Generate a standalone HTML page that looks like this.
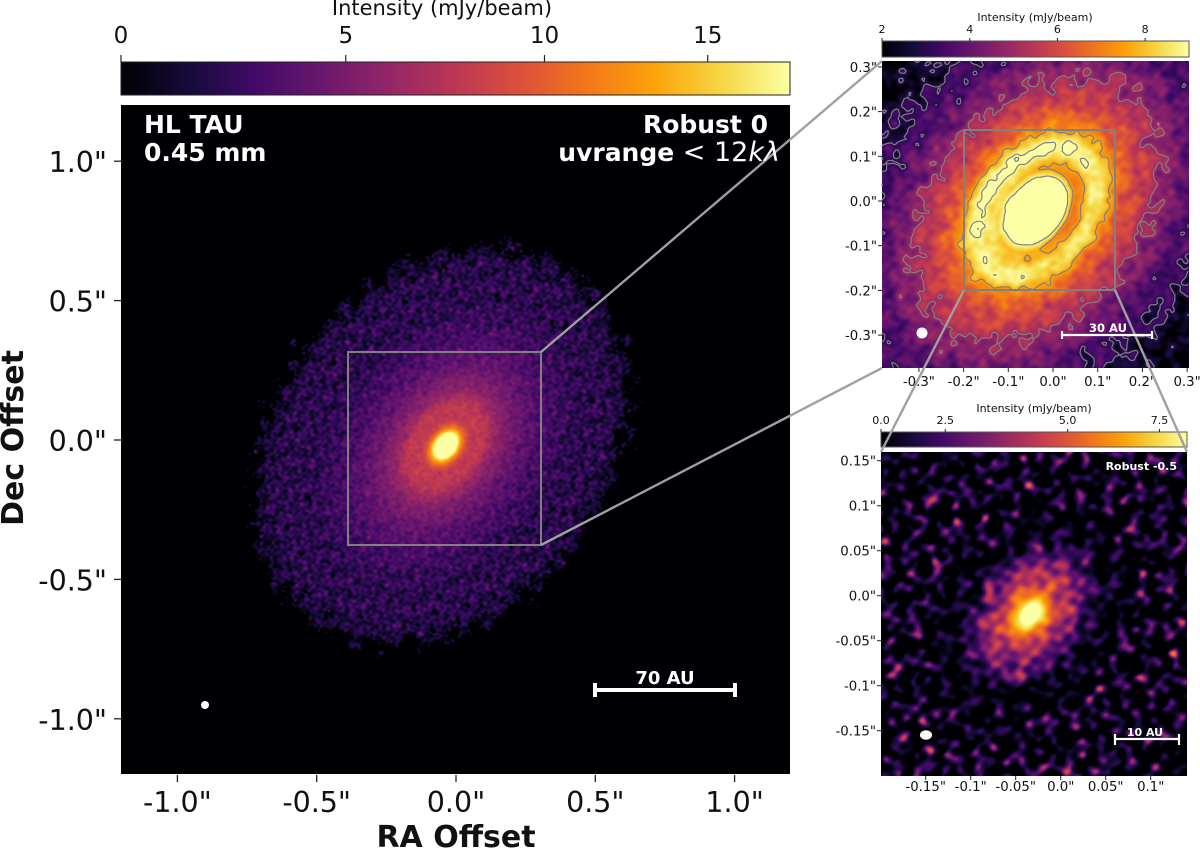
<!DOCTYPE html>
<html lang="en">
<head>
<meta charset="utf-8">
<title>HL Tau 0.45 mm intensity maps</title>
<style>
html,body{margin:0;padding:0;background:#fff;width:1200px;height:848px;overflow:hidden}
#figure{position:relative;width:1200px;height:848px;font-family:"DejaVu Sans","Liberation Sans",sans-serif}
canvas{position:absolute;display:block}
svg{position:absolute;left:0;top:0}
text{font-family:"DejaVu Sans","Liberation Sans",sans-serif}
</style>
</head>
<body>
<div id="figure">
<canvas id="mainImage" width="669" height="669" style="left:121px;top:105px"></canvas>
<canvas id="zoomImage" width="307" height="307" style="left:882px;top:61px"></canvas>
<canvas id="robustImage" width="306" height="324" style="left:881px;top:452px"></canvas>
<svg id="overlay" width="1200" height="848" viewBox="0 0 1200 848">
<defs>
<linearGradient id="infernoGradient" x1="0" x2="1" y1="0" y2="0"></linearGradient>
</defs>
<rect x="121" y="62" width="669" height="33" fill="url(#infernoGradient)" stroke="#222" stroke-width="1"/>
<rect x="882" y="41" width="307" height="16" fill="url(#infernoGradient)" stroke="#555" stroke-width="1"/>
<rect x="881" y="432" width="306" height="15" fill="url(#infernoGradient)" stroke="#555" stroke-width="1"/>
<g id="contours"></g>
<g id="ticks"></g>

<rect x="348" y="352" width="193" height="193" fill="none" stroke="#808080" stroke-width="2"/>
<rect x="964" y="130" width="151" height="160" fill="none" stroke="#808080" stroke-width="2"/>
<g stroke="#a0a0a0" stroke-width="2.4" fill="none">
<line x1="541" y1="352" x2="882" y2="61"/>
<line x1="541" y1="545" x2="882" y2="368"/>
<line x1="964" y1="290" x2="881" y2="452"/>
<line x1="1115" y1="290" x2="1187" y2="452"/>
</g>

<text x="442" y="15" font-size="21" text-anchor="middle" fill="#111">Intensity (mJy/beam)</text>
<text x="1035" y="21" font-size="11" text-anchor="middle" fill="#111">Intensity (mJy/beam)</text>
<text x="1034" y="412" font-size="11" text-anchor="middle" fill="#111">Intensity (mJy/beam)</text>

<text x="456" y="847" font-size="30" font-weight="700" text-anchor="middle" fill="#111">RA Offset</text>
<text transform="translate(23,438) rotate(-90)" font-size="30" font-weight="700" text-anchor="middle" fill="#111">Dec Offset</text>

<text x="144" y="133" font-size="25" font-weight="700" fill="#fff">HL TAU</text>
<text x="144" y="161" font-size="25" font-weight="700" fill="#fff">0.45 mm</text>
<text x="768" y="133" font-size="25" font-weight="700" text-anchor="end" fill="#fff">Robust 0</text>
<text x="780" y="161" font-size="25" text-anchor="end" fill="#fff"><tspan font-weight="700">uvrange</tspan><tspan font-size="27"> &lt; 12</tspan><tspan font-size="27" font-style="italic">kλ</tspan></text>

<g stroke="#fff" stroke-width="4">
<line x1="595" y1="690" x2="735" y2="690"/><line x1="595" y1="683" x2="595" y2="697"/><line x1="735" y1="683" x2="735" y2="697"/>
</g>
<text x="665" y="684" font-size="18" font-weight="700" text-anchor="middle" fill="#fff">70 AU</text>
<circle cx="205" cy="705" r="4" fill="#fff"/>

<g stroke="#fff" stroke-width="2.2">
<line x1="1062" y1="335" x2="1152" y2="335"/><line x1="1062" y1="331" x2="1062" y2="339"/><line x1="1152" y1="331" x2="1152" y2="339"/>
</g>
<text x="1108" y="332" font-size="11.5" font-weight="700" text-anchor="middle" fill="#fff">30 AU</text>
<circle cx="922" cy="333" r="5.5" fill="#fff"/>

<text x="1177" y="470" font-size="11" font-weight="700" text-anchor="end" fill="#fff">Robust -0.5</text>
<g stroke="#fff" stroke-width="2.2">
<line x1="1115" y1="739" x2="1179" y2="739"/><line x1="1115" y1="734" x2="1115" y2="745"/><line x1="1179" y1="734" x2="1179" y2="745"/>
</g>
<text x="1145" y="736" font-size="11" font-weight="700" text-anchor="middle" fill="#fff">10 AU</text>
<ellipse cx="926" cy="735" rx="6" ry="4.8" fill="#fff"/>
</svg>
</div>

<script>
// ---- colormap ----
const infernoStops = ["#000004","#160b39","#420a68","#6a176e","#932667","#bc3754","#dd513a","#f37819","#fca50a","#f6d746","#fcffa4"];

// ---- colour normalisation (intensity -> position along colorbar) ----
const mainNormValues = [0, 5, 10, 15, 17];
const mainNormFractions = [0, 0.336, 0.633, 0.877, 1];
const zoomNormValues = [2, 9];
const zoomNormFractions = [0, 1];
const robustNormValues = [0, 2.5, 5, 7.5, 8.4];
const robustNormFractions = [0, 0.21, 0.61, 0.91, 1];

// ---- tick labels ----
const mainTicks = [-1, -0.5, 0, 0.5, 1];
const mainTickLabels = ['-1.0"', '-0.5"', '0.0"', '0.5"', '1.0"'];
const zoomTicks = [-0.3, -0.2, -0.1, 0, 0.1, 0.2, 0.3];
const zoomTickLabels = ['-0.3"', '-0.2"', '-0.1"', '0.0"', '0.1"', '0.2"', '0.3"'];
const robustXTicks = [-0.15, -0.1, -0.05, 0, 0.05, 0.1];
const robustXTickLabels = ['-0.15"', '-0.1"', '-0.05"', '0.0"', '0.05"', '0.1"'];
const robustYTicks = [-0.15, -0.1, -0.05, 0, 0.05, 0.1, 0.15];
const robustYTickLabels = ['-0.15"', '-0.1"', '-0.05"', '0.0"', '0.05"', '0.1"', '0.15"'];
const mainCbarTicks = [0, 5, 10, 15];
const zoomCbarTicks = [2, 4, 6, 8];
const robustCbarTicks = [0, 2.5, 5, 7.5];
const robustCbarLabels = ['0.0', '2.5', '5.0', '7.5'];

// ---- radial intensity profiles (elliptical radius in arcsec, mJy/beam) ----
const mainRadius = [0, 0.05, 0.07, 0.085, 0.105, 0.13, 0.17, 0.2, 0.25, 0.3, 0.36, 0.42, 0.5, 0.58, 0.68, 0.75, 0.85];
const mainIntensity = [32, 17, 12, 9.5, 8, 8, 7.8, 6.6, 5.4, 4.6, 3.9, 3.3, 2.7, 2.15, 2.15, 2.05, 1.85];
const mainScatter = [0.05, 0.1, 0.15, 0.2, 0.25, 0.28, 0.3, 0.3, 0.33, 0.36, 0.4, 0.5, 0.62, 0.72, 0.78, 0.82, 0.85];

const zoomRadius = [0, 0.05, 0.085, 0.105, 0.125, 0.15, 0.175, 0.2, 0.23, 0.27, 0.31, 0.36, 0.42, 0.5, 0.58, 0.68];
const zoomIntensity = [32, 17, 9, 7.6, 7.9, 8.9, 8.7, 7.6, 6.5, 5.9, 5.3, 4.6, 3.7, 3.1, 2.4, 2.1];
const zoomScatter = [0.03, 0.03, 0.05, 0.08, 0.12, 0.14, 0.16, 0.18, 0.2, 0.22, 0.22, 0.24, 0.26, 0.28, 0.3, 0.32];

const robustRadius = [0, 0.01, 0.016, 0.024, 0.032, 0.05, 0.068, 0.082, 0.095, 0.11, 0.16, 0.25, 0.32, 0.45];
const robustIntensity = [11, 9, 7.6, 6, 5, 3.9, 3.1, 1.7, 0.5, 0, 0.3, 0.3, -0.1, -0.6];
const robustScatter = [0, 0, 0.2, 0.35, 0.45, 0.5, 0.7, 0.9, 1, 1, 1.6, 1.6, 1.5, 1.3];

const contourLevels = [3, 5, 7.6, 9];

// ---- disc geometry ----
const discCentre = [-0.037, -0.021];
const discAngleDeg = 52;
const discAxisRatio = 0.7;
const robustCentre = [-0.034, -0.02];
const edgeCentre = [-0.053, -0.018];
const edgeAngleDeg = 52;
const edgeAxisRatio = 0.77;
const edgeSemiMajor = 0.772;

// ---- beam-sized texture: fixed plane waves [direction deg, wavelength factor, phase] ----
const textureWaves = [[12,1.0,0.4],[37,0.86,2.1],[58,1.12,4.3],[83,0.95,1.2],[104,1.05,5.6],[127,0.9,3.3],[149,1.18,0.9],[171,0.98,2.7],[24,1.32,5.1],[71,0.74,3.9],[116,1.48,1.7],[139,0.68,4.9],[3,1.66,2.3],[160,1.82,0.2]];

const waveCos = textureWaves.map(w => Math.cos(w[0] * Math.PI / 180));
const waveSin = textureWaves.map(w => Math.sin(w[0] * Math.PI / 180));
const waveNorm = Math.sqrt(2 / textureWaves.length);

function texture(x, y, wl) {
  let s = 0;
  for (let i = 0; i < textureWaves.length; i++) {
    const k = 6.28318 / (wl * textureWaves[i][1]);
    s += Math.sin(k * (x * waveCos[i] + y * waveSin[i]) + textureWaves[i][2]);
  }
  return s * waveNorm;
}
function interp(xs, ys, x) {
  if (x <= xs[0]) return ys[0];
  const n = xs.length - 1;
  if (x >= xs[n]) return ys[n];
  let i = 1;
  while (xs[i] < x) i++;
  const t = (x - xs[i - 1]) / (xs[i] - xs[i - 1]);
  return ys[i - 1] + t * (ys[i] - ys[i - 1]);
}
function hexRgb(h) {
  return [parseInt(h.slice(1, 3), 16), parseInt(h.slice(3, 5), 16), parseInt(h.slice(5, 7), 16)];
}
const infernoRgb = infernoStops.map(hexRgb);
function colorAt(t) {
  t = Math.max(0, Math.min(1, t)) * (infernoRgb.length - 1);
  const i = Math.min(Math.floor(t), infernoRgb.length - 2);
  const f = t - i, a = infernoRgb[i], b = infernoRgb[i + 1];
  return [a[0] + f * (b[0] - a[0]), a[1] + f * (b[1] - a[1]), a[2] + f * (b[2] - a[2])];
}
const cosA = Math.cos(discAngleDeg * Math.PI / 180);
const sinA = Math.sin(discAngleDeg * Math.PI / 180);
const cosE = Math.cos(edgeAngleDeg * Math.PI / 180);
const sinE = Math.sin(edgeAngleDeg * Math.PI / 180);
function ellipticalRadius(dx, dy) {
  const u = dx * cosA + dy * sinA;
  const v = (-dx * sinA + dy * cosA) / discAxisRatio;
  return Math.sqrt(u * u + v * v);
}
function edgeRadius(x, y) {
  const dx = x - edgeCentre[0], dy = y - edgeCentre[1];
  const u = dx * cosE + dy * sinE;
  const v = (-dx * sinE + dy * cosE) / edgeAxisRatio;
  return Math.sqrt(u * u + v * v) / edgeSemiMajor;
}
function mainField(x, y) {
  const ro = edgeRadius(x, y) + 0.028 * texture(x + 1.3, y - 0.7, 0.08) + 0.02 * texture(x, y, 0.022);
  if (ro > 1) return 0;
  const r = ellipticalRadius(x - discCentre[0], y - discCentre[1]);
  const n = 0.8 * texture(x, y, 0.024) + 0.6 * texture(y + 0.4, x - 0.9, 0.05);
  const fade = ro > 0.9 ? 1 - 4 * (ro - 0.9) : 1;
  return Math.max(0, fade * (interp(mainRadius, mainIntensity, r) + interp(mainRadius, mainScatter, r) * n));
}
function zoomField(x, y) {
  const dx = x - discCentre[0], dy = y - discCentre[1];
  const r = ellipticalRadius(dx, dy);
  let v = interp(zoomRadius, zoomIntensity, r);
  const phi = Math.atan2(dy, dx);
  const ring = Math.exp(-Math.pow((r - 0.15) / 0.03, 2));
  const gap = Math.exp(-Math.pow((r - 0.108) / 0.022, 2));
  v += 0.5 * Math.cos(phi - 2.36) * ring - 0.7 * Math.cos(phi) * gap;
  const n = 0.7 * texture(x, y, 0.026) + 1.0 * texture(y + 0.4, x - 0.9, 0.055);
  return Math.max(0, v + interp(zoomRadius, zoomScatter, r) * n);
}
function robustField(x, y) {
  const r = ellipticalRadius(x - robustCentre[0], y - robustCentre[1]);
  const v = interp(robustRadius, robustIntensity, r);
  const a = interp(robustRadius, robustScatter, r);
  const n = 0.8 * texture(x + 0.31, y - 0.17, 0.017) + 0.6 * texture(y + 0.21, x + 0.4, 0.03);
  return Math.max(0, v + a * n);
}
function paint(id, field, toSkyX, toSkyY, normV, normF) {
  const c = document.getElementById(id);
  const ctx = c.getContext('2d');
  const img = ctx.createImageData(c.width, c.height);
  let k = 0;
  for (let j = 0; j < c.height; j++) {
    const sy = toSkyY(j + 0.5);
    for (let i = 0; i < c.width; i++) {
      const rgb = colorAt(interp(normV, normF, field(toSkyX(i + 0.5), sy)));
      img.data[k++] = rgb[0];
      img.data[k++] = rgb[1];
      img.data[k++] = rgb[2];
      img.data[k++] = 255;
    }
  }
  ctx.putImageData(img, 0, 0);
}

// ---- axis functions (pixel <-> arcsec) ----
const mainX = v => 456 + 278.6 * v;
const mainY = v => 440 - 278.8 * v;
const zoomX = v => 1053 + 447 * v;
const zoomY = v => 201 - 447 * v;
const robustX = v => 1060.7 + 900 * v;
const robustY = v => 595.7 - 900 * v;

paint('mainImage', mainField, p => (p + 121 - 456) / 278.6, p => (440 - (p + 105)) / 278.8, mainNormValues, mainNormFractions);
paint('zoomImage', zoomField, p => (p + 882 - 1053) / 447, p => (201 - (p + 61)) / 447, zoomNormValues, zoomNormFractions);
paint('robustImage', robustField, p => (p + 881 - 1060.7) / 900, p => (595.7 - (p + 452)) / 900, robustNormValues, robustNormFractions);

// ---- colorbar gradient ----
const svgNS = 'http://www.w3.org/2000/svg';
const grad = document.getElementById('infernoGradient');
infernoStops.forEach((col, i) => {
  const st = document.createElementNS(svgNS, 'stop');
  st.setAttribute('offset', i / (infernoStops.length - 1));
  st.setAttribute('stop-color', col);
  grad.appendChild(st);
});

// ---- ticks ----
const tickLayer = document.getElementById('ticks');
function addTick(x1, y1, x2, y2, color, width, name) {
  const l = document.createElementNS(svgNS, 'line');
  l.setAttribute('x1', x1);
  l.setAttribute('y1', y1);
  l.setAttribute('x2', x2);
  l.setAttribute('y2', y2);
  l.setAttribute('stroke', color);
  l.setAttribute('stroke-width', width);
  
  
  tickLayer.appendChild(l);
}
function addLabel(x, y, str, size, anchor, name) {
  const t = document.createElementNS(svgNS, 'text');
  t.setAttribute('x', x);
  t.setAttribute('y', y);
  t.setAttribute('font-size', size);
  t.setAttribute('text-anchor', anchor);
  t.setAttribute('fill', '#111');
  
  
  t.textContent = str;
  tickLayer.appendChild(t);
}
mainTicks.forEach((v, i) => {
  addTick(mainX(v), 775, mainX(v), 782, '#222', 1.3, 'main-x-tick');
  addLabel(mainX(v), 812, mainTickLabels[i], 28.5, 'middle', 'main-x-tick-label');
  addTick(114, mainY(v), 121, mainY(v), '#222', 1.3, 'main-y-tick');
  addLabel(107, mainY(v) + 11, mainTickLabels[i], 28.5, 'end', 'main-y-tick-label');
});
zoomTicks.forEach((v, i) => {
  addTick(zoomX(v), 368, zoomX(v), 372, '#222', 1, 'zoom-x-tick');
  addLabel(zoomX(v), 386, zoomTickLabels[i], 13.3, 'middle', 'zoom-x-tick-label');
  addTick(878, zoomY(v), 882, zoomY(v), '#222', 1, 'zoom-y-tick');
  addLabel(877, zoomY(v) + 5, zoomTickLabels[i], 13.3, 'end', 'zoom-y-tick-label');
});
robustXTicks.forEach((v, i) => {
  addTick(robustX(v), 776, robustX(v), 780, '#222', 1, 'robust-x-tick');
  addLabel(robustX(v), 791, robustXTickLabels[i], 13.3, 'middle', 'robust-x-tick-label');
});
robustYTicks.forEach((v, i) => {
  addTick(877, robustY(v), 881, robustY(v), '#222', 1, 'robust-y-tick');
  addLabel(876, robustY(v) + 5, robustYTickLabels[i], 13.3, 'end', 'robust-y-tick-label');
});
mainCbarTicks.forEach(v => {
  const x = 121 + 669 * interp(mainNormValues, mainNormFractions, v);
  addTick(x, 55, x, 62, '#222', 1.2, 'main-colorbar-tick');
  addLabel(x, 43, String(v), 23, 'middle', 'main-colorbar-tick-label');
});
zoomCbarTicks.forEach(v => {
  const x = 882 + 307 * interp(zoomNormValues, zoomNormFractions, v);
  addTick(x, 38, x, 41, '#222', 1, 'zoom-colorbar-tick');
  addLabel(x, 33, String(v), 11, 'middle', 'zoom-colorbar-tick-label');
});
robustCbarTicks.forEach((v, i) => {
  const x = 881 + 306 * interp(robustNormValues, robustNormFractions, v);
  addTick(x, 429, x, 432, '#222', 1, 'robust-colorbar-tick');
  addLabel(x, 424, robustCbarLabels[i], 11, 'middle', 'robust-colorbar-tick-label');
});

// ---- contours on the zoom panel (marching squares over the field) ----
const contourLayer = document.getElementById('contours');
contourLevels.forEach(level => {
  const step = 2, x0 = 882, y0 = 61, nx = 154, ny = 154;
  const vals = [];
  for (let j = 0; j < ny; j++) {
    const row = [];
    for (let i = 0; i < nx; i++) {
      row.push(zoomField((x0 + i * step - 1053) / 447, (201 - (y0 + j * step)) / 447));
    }
    vals.push(row);
  }
  let d = '';
  for (let j = 0; j < ny - 1; j++) {
    for (let i = 0; i < nx - 1; i++) {
      const a = vals[j][i], b = vals[j][i + 1], c = vals[j + 1][i + 1], e = vals[j + 1][i];
      const px = x0 + i * step, py = y0 + j * step;
      const pts = [];
      if ((a - level) * (b - level) < 0) pts.push([px + step * (level - a) / (b - a), py]);
      if ((b - level) * (c - level) < 0) pts.push([px + step, py + step * (level - b) / (c - b)]);
      if ((e - level) * (c - level) < 0) pts.push([px + step * (level - e) / (c - e), py + step]);
      if ((a - level) * (e - level) < 0) pts.push([px, py + step * (level - a) / (e - a)]);
      if (pts.length >= 2) d += 'M' + pts[0][0].toFixed(1) + ' ' + pts[0][1].toFixed(1) + 'L' + pts[1][0].toFixed(1) + ' ' + pts[1][1].toFixed(1);
      if (pts.length === 4) d += 'M' + pts[2][0].toFixed(1) + ' ' + pts[2][1].toFixed(1) + 'L' + pts[3][0].toFixed(1) + ' ' + pts[3][1].toFixed(1);
    }
  }
  const p = document.createElementNS(svgNS, 'path');
  p.setAttribute('d', d);
  p.setAttribute('fill', 'none');
  p.setAttribute('stroke', '#808080');
  p.setAttribute('stroke-width', '1.2');
  p.setAttribute('stroke-linecap', 'round');
  
  
  contourLayer.appendChild(p);
});
</script>
</body>
</html>
